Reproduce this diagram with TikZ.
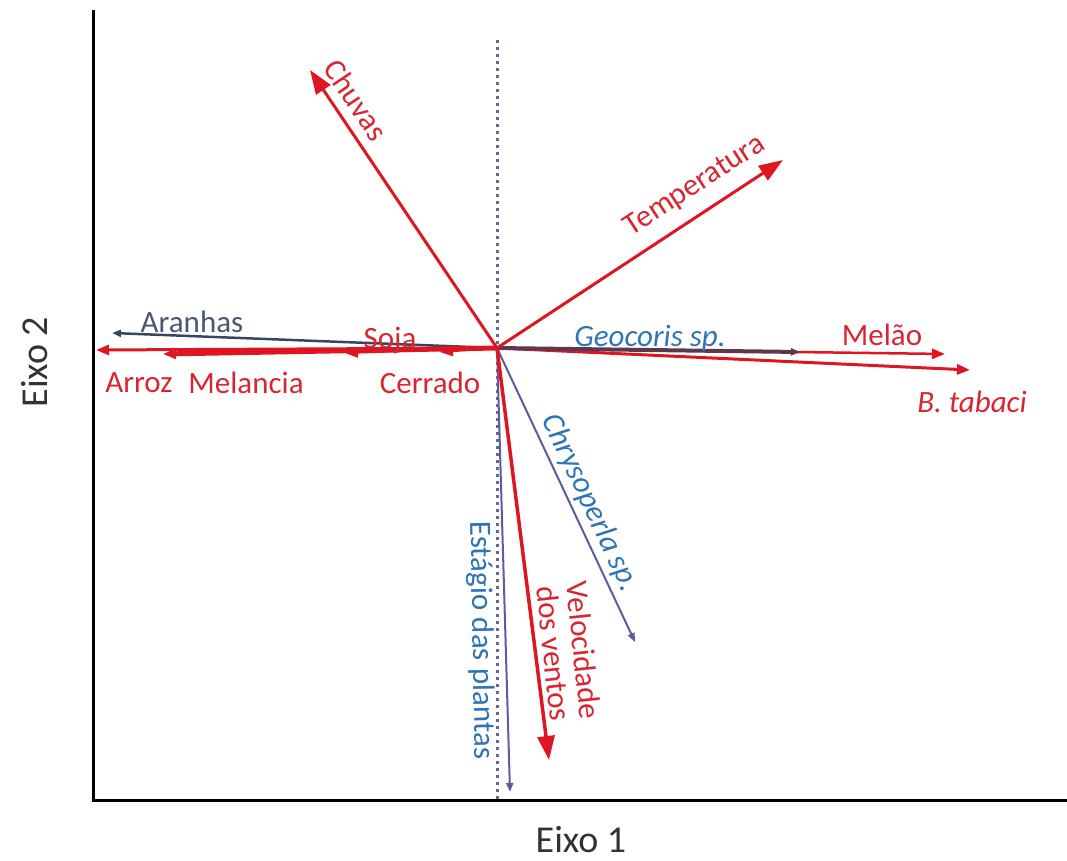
\documentclass[tikz,border=0pt]{standalone}
\usepackage{fontspec}
\setmainfont{Carlito}
\usetikzlibrary{arrows.meta}
\definecolor{vermelho}{RGB}{222,22,34}
\definecolor{txtred}{RGB}{216,38,48}
\definecolor{azul}{RGB}{46,117,182}
\definecolor{ardosia}{RGB}{52,70,96}
\definecolor{roxo}{RGB}{92,92,160}

\begin{document}
\begin{tikzpicture}[x=1pt,y=-1pt,
  lbl/.style={font=\fontsize{31}{31}\selectfont, text=txtred, inner sep=0pt},
  lblazul/.style={lbl, text=azul, font=\fontsize{31}{31}\selectfont\itshape},
  eixo/.style={font=\fontsize{38}{38}\selectfont, text=black!80, inner sep=0pt},
  big/.style={-{Triangle[length=24pt,width=17pt]}, line width=3pt, vermelho},
  med/.style={-{Triangle[length=13pt,width=10pt]}, line width=3pt, vermelho},
  thin/.style={-{Triangle[length=9pt,width=7pt]}, line width=2pt}]
  \useasboundingbox (0,0) rectangle (1067,861);
  % eixos
  \coordinate (O) at (497,348);
  \coordinate (topo) at (93,10);
  \coordinate (canto) at (93,800);
  \coordinate (fim) at (1067,800);
  \draw[line width=3pt] (topo) -- (canto) -- (fim);
  \draw[gray!80!blue, line width=3pt, dash pattern=on 3pt off 4pt] (497,40) -- (497,800);
  \node[eixo] (e1) at (581,840) {Eixo 1};
  \node[eixo, rotate=90] (e2) at (35,362) {Eixo 2};

  % pontas
  \coordinate (chuvas) at (310,70);
  \coordinate (temp) at (783,160);
  \coordinate (aranhas) at (112,333);
  \coordinate (soja) at (345,353);
  \coordinate (arroz) at (96,350);
  \coordinate (melancia) at (163,354);
  \coordinate (cerrado) at (440,352);
  \coordinate (geocoris) at (800,352);
  \coordinate (melao) at (945,354);
  \coordinate (tabaci) at (970,370);
  \coordinate (chryso) at (635,642);
  \coordinate (vento) at (549,760);
  \coordinate (estagio) at (510,792);

  % setas
  \draw[thin, ardosia, line width=2.5pt] (O) -- (aranhas);
  \draw[med, line width=3pt] (O) -- (arroz);
  \draw[med, line width=5pt] (O) -- (melancia);
  \draw[med, line width=2pt] (O) -- (soja);
  \draw[med, line width=2pt] (O) -- (cerrado);
  \draw[med, line width=2.5pt] (O) -- (melao);
  \draw[med, line width=3pt] (O) -- (tabaci);
  \draw[thin, ardosia!80!red, line width=4pt] (O) -- (geocoris);
  \draw[big] (O) -- (chuvas);
  \draw[big] (O) -- (temp);
  \draw[thin, roxo] (O) -- (chryso);
  \draw[thin, roxo] (O) -- (estagio);
  \draw[big, line width=3.5pt] (O) -- (vento);

  % rotulos
  \node[lbl, rotate=-56] (l-chuvas) at (356,100) {Chuvas};
  \node[lbl, rotate=33] (l-temp) at (695,186) {Temperatura};
  \node[lbl, text=ardosia!90] (l-aranhas) at (192,322) {Aranhas};
  \node[lbl] (l-soja) at (390,340) {Soja};
  \node[lbl] (l-arroz) at (139,383) {Arroz};
  \node[lbl] (l-melancia) at (246,383) {Melancia};
  \node[lbl] (l-cerrado) at (430,383) {Cerrado};
  \node[lblazul] (l-geocoris) at (650,338) {Geocoris sp.};
  \node[lbl] (l-melao) at (882,335) {Melão};
  \node[lbl, font=\fontsize{31}{31}\selectfont\itshape] (l-tabaci) at (972,402) {B. tabaci};
  \node[lblazul, rotate=-65] (l-chryso) at (590,503) {Chrysoperla sp.};
  \node[lbl, rotate=-84, align=center, font=\fontsize{31}{30}\selectfont] (l-vento) at (569,652) {Velocidade\\dos ventos};
  \node[lblazul, font=\fontsize{31}{31}\selectfont, rotate=-89] (l-estagio) at (481,640) {Estágio das plantas};
\end{tikzpicture}
\end{document}
